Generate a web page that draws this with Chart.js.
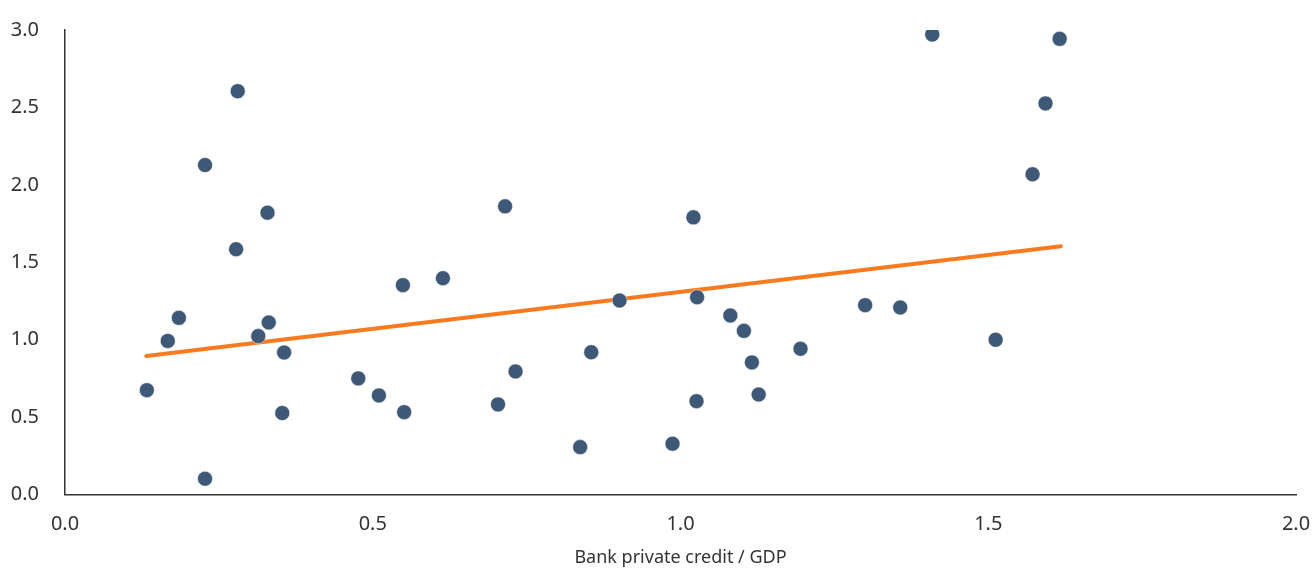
<!DOCTYPE html>
<html>
<head>
<meta charset="utf-8">
<script src="https://cdn.jsdelivr.net/npm/chart.js@4/dist/chart.umd.min.js"></script>
<style>
  html, body { margin: 0; padding: 0; background: #fff; }
  #wrap { width: 1313px; height: 569px; }
</style>
</head>
<body>
<div id="wrap"><canvas id="scatterChart" width="1313" height="569"></canvas></div>
<script>
// Bank private credit / GDP (x) and y value per country
const creditX = [0.133, 0.167, 0.185, 0.2275, 0.2806, 0.278, 0.314, 0.329, 0.331, 0.356,
  0.353, 0.2275, 0.4765, 0.510, 0.549, 0.551, 0.614, 0.7035, 0.715, 0.732,
  0.837, 0.855, 0.901, 0.987, 1.021, 1.027, 1.026, 1.081, 1.103, 1.116,
  1.127, 1.195, 1.300, 1.357, 1.409, 1.512, 1.572, 1.593, 1.616];
const valueY = [0.674, 0.992, 1.141, 2.128, 2.605, 1.584, 1.023, 1.820, 1.111, 0.917,
  0.526, 0.102, 0.750, 0.640, 1.352, 0.532, 1.397, 0.582, 1.861, 0.795,
  0.306, 0.919, 1.253, 0.328, 1.790, 1.274, 0.603, 1.156, 1.057, 0.853,
  0.646, 0.941, 1.223, 1.208, 2.971, 0.999, 2.068, 2.526, 2.943];

// fitted trend line end points
const trendX = [0.132, 1.618];
const trendY = [0.894, 1.603];

const xTicks = [0, 0.5, 1, 1.5, 2];
const yTicks = [0, 0.5, 1, 1.5, 2, 2.5, 3];

const points = creditX.map((x, i) => ({ x: x, y: valueY[i] }));
const trend = trendX.map((x, i) => ({ x: x, y: trendY[i] }));

const textColor = '#333333';
const tickFont = { family: 'Noto Sans', size: 20 };

new Chart(document.getElementById('scatterChart').getContext('2d'), {
  type: 'scatter',
  data: {
    datasets: [
      {
        type: 'line',
        label: 'Trend',
        data: trend,
        borderColor: '#f97a1f',
        borderWidth: 4,
        borderCapStyle: 'round',
        pointRadius: 0,
        fill: false,
        order: 2
      },
      {
        label: 'Countries',
        data: points,
        backgroundColor: '#3e5877',
        borderColor: '#ffffff',
        borderWidth: 0.5,
        pointRadius: 7.5,
        order: 1
      }
    ]
  },
  options: {
    responsive: false,
    animation: false,
    layout: { padding: { top: 30, right: 0, left: 0, bottom: 0 } },
    plugins: {
      legend: { display: false },
      tooltip: { enabled: false }
    },
    scales: {
      x: {
        type: 'linear',
        min: 0,
        max: 2,
        afterBuildTicks: (scale) => { scale.ticks = xTicks.map(v => ({ value: v })); },
        grid: { display: false },
        border: { display: true, color: '#333333', width: 1.5 },
        ticks: {
          color: textColor,
          font: tickFont,
          padding: 10,
          maxRotation: 0,
          callback: (v) => Number(v).toFixed(1)
        },
        title: {
          display: true,
          text: 'Bank private credit / GDP',
          color: textColor,
          font: { family: 'Noto Sans', size: 18 },
          padding: { top: 8, bottom: 0 }
        },
        afterFit: (scale) => {
          scale.height = 74.5;
          scale.paddingRight = 17;
          scale.paddingLeft = 0;
        }
      },
      y: {
        type: 'linear',
        min: 0,
        max: 3,
        afterBuildTicks: (scale) => { scale.ticks = yTicks.map(v => ({ value: v })); },
        grid: { display: false },
        border: { display: true, color: '#333333', width: 1.5 },
        ticks: {
          color: textColor,
          font: tickFont,
          padding: 18,
          callback: (v) => Number(v).toFixed(1)
        },
        afterFit: (scale) => { scale.width = 65; }
      }
    }
  }
});
</script>
</body>
</html>
